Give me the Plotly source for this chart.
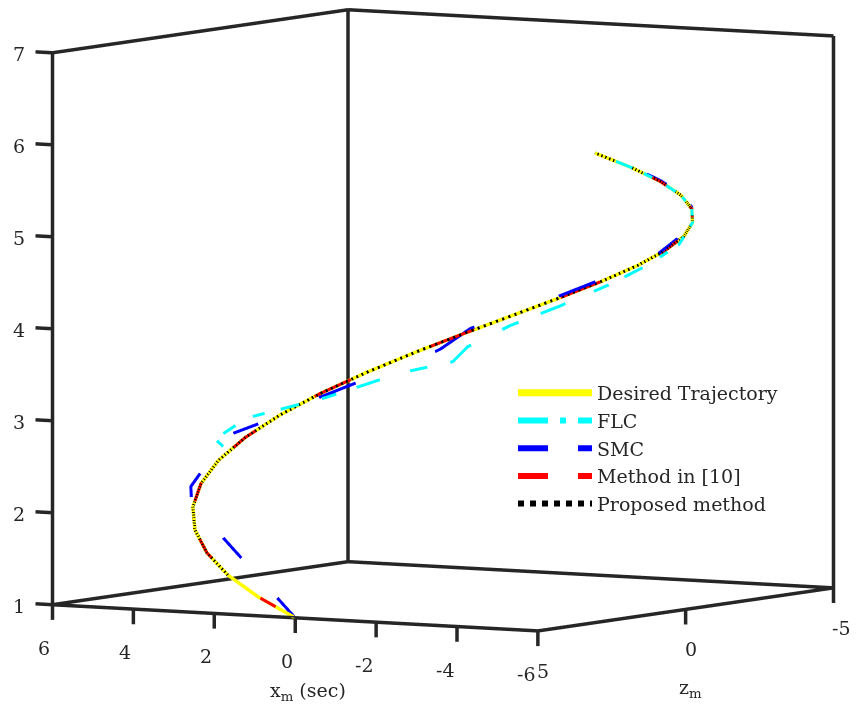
import plotly.graph_objects as go

# ---------------- data ----------------
# Desired trajectory: x_m, z_m, vertical value
traj_x = [0.00, 0.99, 1.95, 2.82, 3.59, 4.21, 4.66, 4.93, 5.00, 4.87, 4.55, 4.04, 3.38,
          2.58, 1.68, 0.71, -0.29, -1.28, -2.21, -3.06, -3.78, -4.36, -4.76, -4.97, -4.98, -4.79]
traj_z = [5.00, 4.90, 4.61, 4.13, 3.48, 2.70, 1.81, 0.85, -0.15, -1.14, -2.08, -2.94, -3.69,
          -4.28, -4.71, -4.95, -4.99, -4.83, -4.48, -3.96, -3.27, -2.45, -1.54, -0.56, 0.44, 1.42]
traj_h = [1.0, 1.2, 1.4, 1.6, 1.8, 2.0, 2.2, 2.4, 2.6, 2.8, 3.0, 3.2, 3.4,
          3.6, 3.8, 4.0, 4.2, 4.4, 4.6, 4.8, 5.0, 5.2, 5.4, 5.6, 5.8, 6.0]

# FLC
flc_x = [4.96, 4.90, 5.00, 4.50, 3.59, 2.79, 2.54, 1.77, 0.71, -0.49, -1.66, -2.82, -3.78,
         -4.36, -4.76, -4.97, -4.98, -4.79]
flc_z = [0.65, 1.00, -0.20, -2.17, -3.48, -4.15, -4.31, -4.68, -4.95, -4.98, -4.72, -4.13, -3.27,
         -2.45, -1.54, -0.56, 0.44, 1.42]
flc_h = [2.54, 2.64, 2.81, 2.95, 3.18, 3.29, 3.45, 3.68, 3.91, 4.17, 4.43, 4.70, 5.00,
         5.20, 5.40, 5.60, 5.80, 6.00]

# SMC
smc_x = [0.00, 4.38, 4.70, 4.82, 4.96, 4.99, 4.94, 4.68, 3.98, 3.52, 2.99, 2.49, 1.05, -1.66,
         -3.06, -3.78, -4.36, -4.76, -4.97, -4.98, -4.79]
smc_z = [5.00, 2.51, 2.10, 1.34, 0.60, 0.35, -0.74, -1.76, -3.03, -3.55, -4.01, -4.34, -4.89, -4.72,
         -3.96, -3.27, -2.45, -1.54, -0.56, 0.44, 1.42]
smc_h = [1.00, 2.03, 2.18, 2.41, 2.54, 2.66, 2.75, 2.91, 3.15, 3.25, 3.43, 3.65, 3.95, 4.47,
         4.83, 5.03, 5.22, 5.42, 5.61, 5.81, 6.00]

# Method in [10]
m10_x = [0.00, 0.99, 1.95, 2.82, 3.59, 4.21, 4.66, 4.93, 5.00, 4.87, 4.55, 4.04, 3.38,
         2.58, 1.68, 0.71, -0.29, -1.28, -2.21, -3.06, -3.78, -4.36, -4.76, -4.97, -4.98, -4.79]
m10_z = [5.00, 4.90, 4.61, 4.13, 3.48, 2.70, 1.81, 0.85, -0.15, -1.14, -2.08, -2.94, -3.69,
         -4.28, -4.71, -4.95, -4.99, -4.83, -4.48, -3.96, -3.27, -2.45, -1.54, -0.56, 0.44, 1.42]
m10_h = [1.0, 1.2, 1.4, 1.6, 1.8, 2.0, 2.2, 2.4, 2.6, 2.8, 3.0, 3.2, 3.4,
         3.6, 3.8, 4.0, 4.2, 4.4, 4.6, 4.8, 5.0, 5.2, 5.4, 5.6, 5.8, 6.0]

# Proposed method
prop_x = [1.95, 2.82, 3.59, 4.21, 4.66, 4.93, 5.00, 4.87, 4.55, 4.04, 3.38,
          2.58, 1.68, 0.71, -0.29, -1.28, -2.21, -3.06, -3.78, -4.36, -4.76, -4.97, -4.98, -4.79]
prop_z = [4.61, 4.13, 3.48, 2.70, 1.81, 0.85, -0.15, -1.14, -2.08, -2.94, -3.69,
          -4.28, -4.71, -4.95, -4.99, -4.83, -4.48, -3.96, -3.27, -2.45, -1.54, -0.56, 0.44, 1.42]
prop_h = [1.4, 1.6, 1.8, 2.0, 2.2, 2.4, 2.6, 2.8, 3.0, 3.2, 3.4,
          3.6, 3.8, 4.0, 4.2, 4.4, 4.6, 4.8, 5.0, 5.2, 5.4, 5.6, 5.8, 6.0]

# tick values / labels
x_ticks = [6, 4, 2, 0, -2, -4, -6]
x_ticktext = ["6", "4", "2", "0", "-2", "-4", "-6"]
z_ticks = [5, 0, -5]
z_ticktext = ["5", "0", "-5"]
h_ticks = [1, 2, 3, 4, 5, 6, 7]
h_ticktext = ["1", "2", "3", "4", "5", "6", "7"]

x_range = [-6, 6]
z_range = [-5, 5]
h_range = [1, 7]

FONT = "DejaVu Serif"
AX = "#262626"
SCALE = 1.776            # overall zoom of the orthographic view
TICK_H = 0.165           # tick length along the vertical axis (for bottom ticks)
TICK_X = 0.42            # tick length along x_m (for vertical-axis ticks)
LABEL_X = 0.84           # distance of vertical-axis labels from the axis, along x_m
EPS = 2e-3

# screen pixels per data unit of the view (used for centring and depth ordering)
PX_X = (-40.5, -2.25)
PX_Z = (-29.6, 4.3)
PX_H = (0.0, -92.2)

# scene ranges: the axes box plus room for the outward tick marks / labels
sx_range = [x_range[0] - EPS, x_range[1] + LABEL_X + EPS]
sz_range = [z_range[0] - EPS, z_range[1] + EPS]
sh_range = [h_range[0] - TICK_H - EPS, h_range[1] + EPS]
asp = dict(x=SCALE * (sx_range[1] - sx_range[0]) / 12,
           y=SCALE * (sz_range[1] - sz_range[0]) / 10,
           z=0.975 * SCALE * (sh_range[1] - sh_range[0]) / 6)

# place the scene so the axes box sits where it does in the reference
DOM_W, DOM_H = 836, 640
cx = (sx_range[0] + sx_range[1]) / 2
cz = (sz_range[0] + sz_range[1]) / 2
ch = (sh_range[0] + sh_range[1]) / 2
cen_px = 443 + PX_X[0] * cx + PX_Z[0] * cz
cen_py = 597 + PX_X[1] * cx + PX_Z[1] * cz + PX_H[1] * (ch - 1)
m_l = cen_px - DOM_W / 2
m_t = cen_py - DOM_H / 2
m_r = 861 - m_l - DOM_W
m_b = 711 - m_t - DOM_H

# depth ordering: move a trace towards the viewer along the line of sight
# (dx = -k, chosen dz and dh so the on-screen displacement is zero)
_dz = PX_X[0] / PX_Z[0]
_dh = -(-PX_X[1] + PX_Z[1] * _dz) / PX_H[1]
def toward_viewer(xs, zs, hs, k):
    return ([v - k for v in xs], [v + _dz * k for v in zs], [v + _dh * k for v in hs])

fig = go.Figure()

fx, fz, fh = toward_viewer(flc_x, flc_z, flc_h, 0.08)
px_, pz_, ph_ = toward_viewer(prop_x, prop_z, prop_h, 0.06)
mx, mz, mh = toward_viewer(m10_x, m10_z, m10_h, 0.04)
sx_, sz_, sh_ = toward_viewer(smc_x, smc_z, smc_h, 0.02)

fig.add_trace(go.Scatter3d(x=traj_x, y=traj_z, z=traj_h, mode="lines", name="Desired Trajectory",
                           line=dict(color="#FFFF00", width=7), legendrank=1))
fig.add_trace(go.Scatter3d(x=sx_, y=sz_, z=sh_, mode="lines", name="SMC",
                           line=dict(color="#0000FF", width=6, dash="longdash"), legendrank=3))
fig.add_trace(go.Scatter3d(x=mx, y=mz, z=mh, mode="lines", name="Method in [10]",
                           line=dict(color="#FF0000", width=6, dash="longdash"), legendrank=4))
fig.add_trace(go.Scatter3d(x=px_, y=pz_, z=ph_, mode="lines", name="Proposed method",
                           line=dict(color="#000000", width=6, dash="dot"), legendrank=5))
fig.add_trace(go.Scatter3d(x=fx, y=fz, z=fh, mode="lines", name="FLC",
                           line=dict(color="#00FFFF", width=6, dash="longdashdot"), legendrank=2))

# axes box edges (back planes + front axes), built from the axis ranges
x0, x1 = x_range[1], x_range[0]   # left (6) , front (-6)
z0, z1 = z_range[1], z_range[0]   # front (5), back (-5)
h0, h1 = h_range
bx, bz, bh = [], [], []
def edge(p, q):
    bx.extend([p[0], q[0], None]); bz.extend([p[1], q[1], None]); bh.extend([p[2], q[2], None])
edge((x0, z0, h0), (x1, z0, h0))
edge((x1, z0, h0), (x1, z1, h0))
edge((x0, z0, h0), (x0, z1, h0))
edge((x0, z1, h0), (x1, z1, h0))
edge((x0, z0, h0), (x0, z0, h1))
edge((x0, z1, h0), (x0, z1, h1))
edge((x1, z1, h0), (x1, z1, h1))
edge((x0, z0, h1), (x0, z1, h1))
edge((x0, z1, h1), (x1, z1, h1))
# tick marks at the tick values
for v in x_ticks:
    edge((v, z0, h0), (v, z0, h0 - TICK_H))
for v in z_ticks:
    edge((x1, v, h0), (x1, v, h0 - TICK_H))
for v in h_ticks:
    edge((x0, z0, v), (x0 + TICK_X, z0, v))
fig.add_trace(go.Scatter3d(x=bx, y=bz, z=bh, mode="lines", showlegend=False, hoverinfo="skip",
                           line=dict(color=AX, width=7)))

axis_common = dict(showgrid=False, zeroline=False, showbackground=False, showline=False,
                   ticks="", showticklabels=False, showspikes=False, title=dict(text=""))

# tick labels and axis titles as scene annotations anchored at the tick values
TF = dict(family=FONT, size=19, color=AX)
ann = []
for v, t in zip(x_ticks, x_ticktext):
    ann.append(dict(x=v, y=z0, z=h0, text=t, showarrow=False, xanchor="right", yanchor="middle",
                    xshift=0, yshift=-43, font=TF))
for v, t in zip(z_ticks, z_ticktext):
    ann.append(dict(x=x1, y=v, z=h0, text=t, showarrow=False, xanchor="left", yanchor="middle",
                    xshift=-3, yshift=-40, font=TF))
for v, t in zip(h_ticks, h_ticktext):
    ann.append(dict(x=x0 + LABEL_X, y=z0, z=v, text=t, showarrow=False, xanchor="center",
                    yanchor="middle", xshift=0, yshift=-3, font=TF))
ann.append(dict(x=0, y=z0, z=h0, text="x<sub>m</sub> (sec)", showarrow=False, xanchor="center",
                yanchor="middle", xshift=13, yshift=-74, font=TF))
ann.append(dict(x=x1, y=0, z=h0, text="z<sub>m</sub>", showarrow=False, xanchor="center",
                yanchor="middle", xshift=5, yshift=-79, font=TF))

fig.update_layout(
    width=861, height=711,
    paper_bgcolor="white",
    margin=dict(l=m_l, r=m_r, t=m_t, b=m_b),
    font=dict(family=FONT, size=19, color=AX),
    scene=dict(
        xaxis=dict(range=sx_range, **axis_common),
        yaxis=dict(range=sz_range, **axis_common),
        zaxis=dict(range=sh_range, **axis_common),
        aspectmode="manual", aspectratio=asp,
        camera=dict(eye=dict(x=-0.520 * 2.2, y=0.854 * 2.2, z=0.089 * 2.2),
                    up=dict(x=0, y=0, z=1), center=dict(x=0, y=0, z=0),
                    projection=dict(type="orthographic")),
        annotations=ann,
    ),
    legend=dict(x=(513 - m_l) / DOM_W, y=1 - (374 - m_t) / DOM_H, xanchor="left", yanchor="top",
                bgcolor="rgba(0,0,0,0)", itemwidth=74,
                font=dict(family=FONT, size=19, color="#262626"), tracegroupgap=0),
    showlegend=True,
)

fig.write_html("out.html")
